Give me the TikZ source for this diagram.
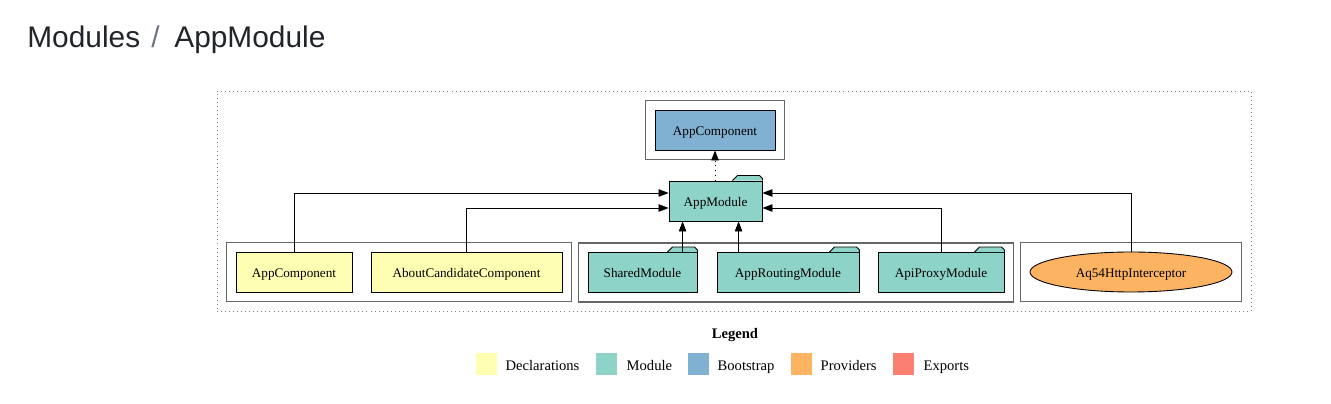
\documentclass[tikz,border=0pt]{standalone}
\usepackage{fontspec}
\setmainfont{Liberation Serif}
\newfontfamily\titlefont{Liberation Sans}
\usepackage{tikz}
\usetikzlibrary{arrows.meta,positioning,fit,calc,shapes.geometric}

\definecolor{declcol}{HTML}{FFFFB3}
\definecolor{modcol}{HTML}{8DD3C7}
\definecolor{bootcol}{HTML}{80B1D3}
\definecolor{provcol}{HTML}{FDB462}
\definecolor{expcol}{HTML}{FB8072}
\definecolor{titlecol}{HTML}{212529}
\definecolor{sepcol}{HTML}{6C757D}
\definecolor{clustercol}{HTML}{666666}

% folder tab on top of a module node
\newcommand{\modtab}[1]{%
  \filldraw[fill=modcol, line width=0.5pt] ($(#1.north east)+(-30,0)$) -- ++(5,5) -- ++(22,0) -- ++(3,-3) -- (#1.north east);}

\begin{document}
\begin{tikzpicture}[
  x=0.02cm, y=0.02cm,
  gnode/.style={draw, line width=0.5pt, inner sep=0, minimum height=0.8cm,
    text height=0.75em, text depth=0.15em, font=\fontsize{7.5}{9}\selectfont},
  decl/.style={gnode, fill=declcol},
  module/.style={gnode, fill=modcol},
  boot/.style={gnode, fill=bootcol},
  provider/.style={gnode, ellipse, fill=provcol},
  cluster/.style={draw=clustercol, line width=0.7pt, inner sep=0.18cm},
  frame/.style={draw=gray, line width=0.5pt, dash pattern=on 0.5pt off 1.8pt, inner sep=0.18cm},
  edge/.style={-{Triangle[length=0.2cm, width=0.15cm]}, line width=0.45pt},
  legbox/.style={minimum width=0.42cm, minimum height=0.44cm, inner sep=0},
  legtext/.style={inner sep=0, text height=0.68em, text depth=0pt, font=\fontsize{8.3}{10}\selectfont},
  crumb/.style={inner sep=0, anchor=base west, font=\titlefont\fontsize{17}{20}\selectfont, text=titlecol}
]
\useasboundingbox (0,0) rectangle (1331,-404);

% Title
\node[crumb] (titleA) at (27,-47.5) {Modules};
\node[crumb, text=sepcol] (titleSep) at (151,-47.5) {/};
\node[crumb] (titleB) at (174,-47.5) {AppModule};

% Bootstrap
\node[boot, minimum width=2.4cm] (bootApp) at (715,-130) {AppComponent};

% Module
\node[module, minimum width=1.86cm] (appmod) at (715.5,-201) {AppModule};
\modtab{appmod}

% Declarations
\node[decl, minimum width=2.32cm] (declApp) at (294,-272) {AppComponent};
\node[decl, minimum width=3.82cm] (aboutCand) at (466.5,-272) {AboutCandidateComponent};

% Imports
\node[module, minimum width=2.18cm] (shared) at (642.5,-272.5) {SharedModule};
\node[module, minimum width=2.84cm] (routing) at (788,-272.5) {AppRoutingModule};
\node[module, minimum width=2.52cm] (apiproxy) at (941,-272.5) {ApiProxyModule};
\modtab{shared}
\modtab{routing}
\modtab{apiproxy}

% Providers
\node[provider, minimum width=4.04cm] (aq54) at (1131,-272) {Aq54HttpInterceptor};

% Clusters
\node[cluster, fit=(bootApp)] (bootGroup) {};
\node[cluster, fit=(declApp)(aboutCand)] (declGroup) {};
\node[cluster, fit=(shared)(apiproxy)] (importGroup) {};
\node[cluster, fit=(aq54)] (provGroup) {};
\node[frame, fit=(bootGroup)(declGroup)(provGroup)] (graphFrame) {};

% Arrows
\coordinate (sharedIn) at ($(appmod.south west)+(14,0)$);
\coordinate (routingIn) at ($(appmod.south west)+(70,0)$);
\draw[edge] (declApp.north) |- ($(appmod.west)+(0,8)$);
\draw[edge] (aboutCand.north) |- ($(appmod.west)+(0,-7)$);
\draw[edge] (shared.north -| sharedIn) -- (sharedIn);
\draw[edge] (routing.north -| routingIn) -- (routingIn);
\draw[edge] (apiproxy.north) |- ($(appmod.east)+(0,-7)$);
\draw[edge] (aq54.north) |- ($(appmod.east)+(0,8)$);
\draw[edge, dash pattern=on 0.5pt off 2.2pt] (appmod.north -| bootApp.south) -- (bootApp.south);

% Legend
\node[font=\bfseries\fontsize{8.3}{10}\selectfont, inner sep=0] (legTitle) at (735,-335) {Legend};
\node[legbox, fill=declcol] (legDecl) at (486.5,-364.5) {};
\node[legtext, right=0.16cm of legDecl] (legDeclText) {Declarations};
\node[legbox, fill=modcol] (legMod) at (606.5,-364.5) {};
\node[legtext, right=0.18cm of legMod] (legModText) {Module};
\node[legbox, fill=bootcol] (legBoot) at (698.5,-364.5) {};
\node[legtext, right=0.16cm of legBoot] (legBootText) {Bootstrap};
\node[legbox, fill=provcol] (legProv) at (801.5,-364.5) {};
\node[legtext, right=0.16cm of legProv] (legProvText) {Providers};
\node[legbox, fill=expcol] (legExp) at (903.5,-364.5) {};
\node[legtext, right=0.18cm of legExp] (legExpText) {Exports};

\end{tikzpicture}
\end{document}
